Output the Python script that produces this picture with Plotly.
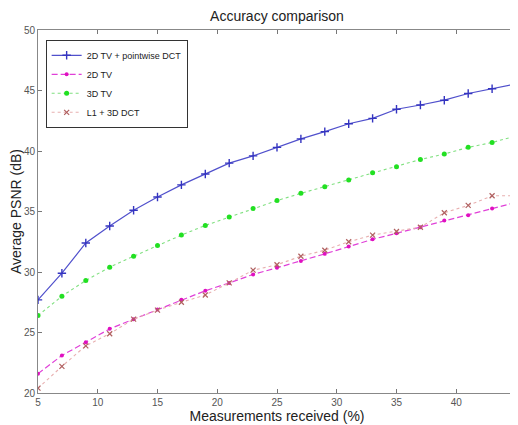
import plotly.graph_objects as go

x_vals = [5, 7, 9, 11, 13, 15, 17, 19, 21, 23, 25, 27, 29, 31, 33, 35, 37, 39, 41, 43, 45]

tv2d_dct = [27.7, 29.9, 32.4, 33.8, 35.1, 36.2, 37.2, 38.1, 39.0, 39.6, 40.3, 41.0, 41.6, 42.25, 42.7, 43.45, 43.8, 44.2, 44.75, 45.15, 45.55]
tv2d = [21.6, 23.1, 24.2, 25.3, 26.1, 26.9, 27.7, 28.45, 29.1, 29.8, 30.35, 30.9, 31.5, 32.1, 32.7, 33.2, 33.7, 34.25, 34.7, 35.25, 35.75]
tv3d = [26.4, 28.0, 29.3, 30.4, 31.3, 32.2, 33.05, 33.85, 34.55, 35.25, 35.9, 36.5, 37.05, 37.6, 38.2, 38.7, 39.3, 39.75, 40.3, 40.7, 41.25]
l1_dct3d = [20.4, 22.2, 23.9, 24.9, 26.1, 26.85, 27.5, 28.1, 29.1, 30.15, 30.6, 31.3, 31.8, 32.5, 33.05, 33.35, 33.7, 34.9, 35.5, 36.3, 36.3]

series_names = ["2D TV + pointwise DCT", "2D TV", "3D TV", "L1 + 3D DCT"]
x_ticks = [5, 10, 15, 20, 25, 30, 35, 40, 45]
y_ticks = [20, 25, 30, 35, 40, 45, 50]

FONT = "Liberation Sans, Arial, sans-serif"

fig = go.Figure()
fig.add_trace(go.Scatter(x=x_vals, y=tv2d_dct, name=series_names[0], mode="lines+markers",
                         line=dict(color="#5050cc", width=1.2, dash="solid"),
                         marker=dict(symbol="cross-thin", size=6, color="#3434c0",
                                     line=dict(color="#3434c0", width=1.4))))
fig.add_trace(go.Scatter(x=x_vals, y=tv2d, name=series_names[1], mode="lines+markers",
                         line=dict(color="#e040d8", width=1.2, dash="6px,3px"),
                         marker=dict(symbol="circle", size=4, color="#e010c0")))
fig.add_trace(go.Scatter(x=x_vals, y=tv3d, name=series_names[2], mode="lines+markers",
                         line=dict(color="#80e080", width=1.1, dash="dot"),
                         marker=dict(symbol="circle", size=5, color="#22e022")))
fig.add_trace(go.Scatter(x=x_vals, y=l1_dct3d, name=series_names[3], mode="lines+markers",
                         line=dict(color="#e8b0b0", width=1.1, dash="dot"),
                         marker=dict(symbol="x-thin", size=5, color="#b06060",
                                     line=dict(color="#b06060", width=1.2))))

axis_common = dict(showline=True, linecolor="#888888", linewidth=1, mirror="ticks",
                   ticks="inside", ticklen=4, tickcolor="#777777", showgrid=False,
                   zeroline=False, automargin=False, ticklabeloverflow="allow",
                   tickfont=dict(family=FONT, size=10, color="#555555"))

fig.update_layout(
    width=510, height=417,
    margin=dict(l=30, r=2, t=22, b=32),
    paper_bgcolor="white", plot_bgcolor="white",
    title=dict(text="Accuracy comparison", x=0.5, xref="paper", xanchor="center",
               y=0.981, yref="container", yanchor="middle",
               font=dict(family=FONT, size=14, color="#222222")),
    xaxis=dict(range=[5, 45], tickvals=x_ticks,
               title=dict(text="Measurements received (%)", standoff=0,
                          font=dict(family=FONT, size=14, color="#222222")),
               **axis_common),
    yaxis=dict(range=[20, 50], tickvals=y_ticks,
               title=dict(text="Average PSNR (dB)", standoff=0,
                          font=dict(family=FONT, size=14, color="#222222")),
               **axis_common),
    legend=dict(x=0.016, y=0.973, xanchor="left", yanchor="top", bgcolor="white",
                bordercolor="#333333", borderwidth=1,
                font=dict(family=FONT, size=9, color="#222222"),
                tracegroupgap=0, itemwidth=30),
    showlegend=True,
)

fig.write_html("out.html")
